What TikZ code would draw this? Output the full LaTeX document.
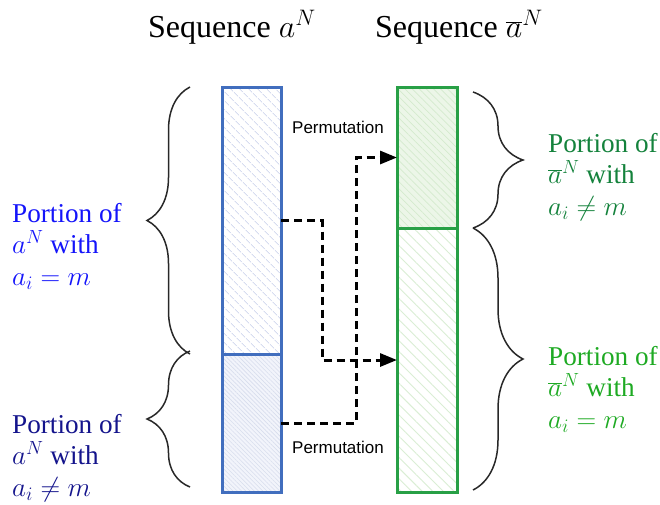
\RequirePackage{fix-cm}
\documentclass[tikz,border=0pt]{standalone}
\usepackage[no-math]{fontspec}
\setmainfont{Liberation Serif}
\newfontfamily\arialfont{Liberation Sans}
\usetikzlibrary{arrows.meta,patterns.meta,decorations.pathreplacing}
\definecolor{bluelbl}{RGB}{20,20,250}
\definecolor{navylbl}{RGB}{20,20,140}
\definecolor{dgreenlbl}{RGB}{20,130,60}
\definecolor{lgreenlbl}{RGB}{30,170,35}
\definecolor{bluebar}{RGB}{65,110,190}
\definecolor{greenbar}{RGB}{40,160,70}
\definecolor{bluehatch}{RGB}{214,220,240}
\definecolor{bluefill}{RGB}{242,244,251}
\definecolor{bluehatchb}{RGB}{216,221,237}
\definecolor{greenfill}{RGB}{236,246,232}
\definecolor{greenhatch}{RGB}{212,234,206}
\definecolor{greenhatchb}{RGB}{218,238,212}
\definecolor{bracecol}{RGB}{40,40,40}
\begin{document}
\begin{tikzpicture}[x=1pt,y=-1pt,
  bar/.style={draw, line width=3pt, minimum width=59pt, inner sep=0pt, outer sep=0pt},
  perm/.style={line width=3pt, dash pattern=on 8pt off 5pt, -{Triangle[length=17pt,width=13pt]}},
  permlbl/.style={anchor=base west, inner sep=0pt, font=\arialfont\fontsize{17}{20}\selectfont},
  lbl/.style={anchor=base west, align=left, inner sep=0pt, font=\fontsize{27.2}{31.5}\selectfont},
  ttl/.style={anchor=base west, inner sep=0pt, font=\fontsize{32}{36}\selectfont},
  brcl/.style={decorate, decoration={brace, amplitude=43pt}, line width=1.5pt, draw=bracecol},
  brcr/.style={decorate, decoration={brace, amplitude=50pt}, line width=1.5pt, draw=bracecol}]
\useasboundingbox (0,0) rectangle (660,504);

% titles
\node[ttl] (t1) at (148,37) {Sequence $a^N$};
\node[ttl] (t2) at (375,37) {Sequence $\overline{a}^N$};

% bars
\node[bar, draw=bluebar, minimum height=267pt, preaction={fill=white},
  pattern={Lines[angle=-45,distance=6.5pt,line width=0.8pt]}, pattern color=bluehatch] (bluetop) at (251.5,220.5) {};
\node[bar, draw=bluebar, minimum height=138pt, preaction={fill=bluefill},
  pattern={Lines[angle=-45,distance=3pt,line width=0.6pt]}, pattern color=bluehatchb] (bluebot) at (251.5,423) {};
\node[bar, draw=greenbar, minimum width=60pt, minimum height=141pt, preaction={fill=greenfill},
  pattern={Lines[angle=-45,distance=5pt,line width=0.7pt]}, pattern color=greenhatch] (greentop) at (427,157.5) {};
\node[bar, draw=greenbar, minimum width=60pt, minimum height=264pt, preaction={fill=white},
  pattern={Lines[angle=-45,distance=7.5pt,line width=0.9pt]}, pattern color=greenhatchb] (greenbot) at (427,360) {};
% redraw borders on top
\draw[bluebar, line width=3pt] (bluetop.south west) -- (bluetop.south east);
\draw[greenbar, line width=3pt] (greentop.south west) -- (greentop.south east);

% permutation arrows
\draw[perm] (bluetop.east) -- ++(41,0) |- (greenbot.west);
\draw[perm] (bluebot.east) -- ++(75,0) |- (greentop.west);
\node[permlbl] (p1) at (292,133) {Permutation};
\node[permlbl] (p2) at (292,453) {Permutation};

% braces
\coordinate (la) at (190,87);
\coordinate (lb) at (190,354);
\coordinate (lc) at (190,487);
\coordinate (ra) at (473,92);
\coordinate (rb) at (473,228);
\coordinate (rc) at (473,490);
\draw[brcl] (lb) -- (la);
\draw[brcl] (lc) -- ([yshift=3pt]lb);
\draw[brcr] (ra) -- (rb);
\draw[brcr] (rb) -- (rc);

% labels (anchored at the baseline of the last line)
\node[lbl, text=bluelbl] (l1) at (12,285) {Portion of\\$a^N$ with\\$a_i = m$};
\node[lbl, text=navylbl] (l2) at (12,496) {Portion of\\$a^N$ with\\$a_i \neq m$};
\node[lbl, text=dgreenlbl] (r1) at (548,215) {Portion of\\$\overline{a}^N$ with\\$a_i \neq m$};
\node[lbl, text=lgreenlbl] (r2) at (548,428) {Portion of\\$\overline{a}^N$ with\\$a_i = m$};
\end{tikzpicture}
\end{document}
